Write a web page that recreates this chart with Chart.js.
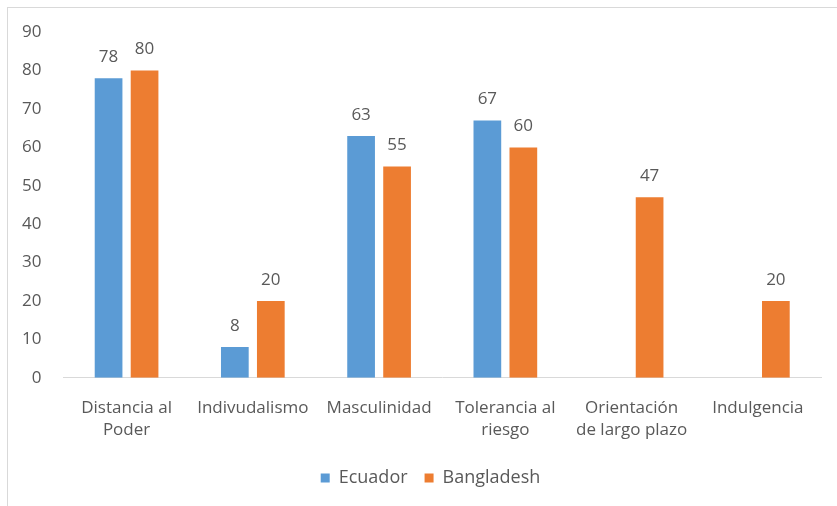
<!DOCTYPE html>
<html>
<head>
<meta charset="utf-8">
<script src="https://cdn.jsdelivr.net/npm/chart.js@4"></script>
<style>
  html, body { margin: 0; padding: 0; background: #fff; }
  #wrap { position: absolute; left: 7px; top: 7px; width: 840px; height: 510px; border: 1px solid #d9d9d9; box-sizing: border-box; }
  canvas { display: block; }
</style>
</head>
<body>
<div id="wrap"><canvas id="barChart"></canvas></div>
<script>
const categories = [
  ['Distancia al', 'Poder'],
  'Indivudalismo',
  'Masculinidad',
  ['Tolerancia al', 'riesgo'],
  ['Orientación', 'de largo plazo'],
  'Indulgencia'
];
const ecuador = [78, 8, 63, 67, null, null];
const bangladesh = [80, 20, 55, 60, 47, 20];
const yTicks = { min: 0, max: 90, step: 10 };

const textColor = '#595959';

// etiquetas de valor encima de cada barra
const valueLabelPlugin = {
  id: 'valueLabelPlugin',
  afterDatasetsDraw(chart) {
    const { ctx } = chart;
    ctx.save();
    ctx.font = '17px "Open Sans"';
    ctx.fillStyle = textColor;
    ctx.textAlign = 'center';
    ctx.textBaseline = 'middle';
    chart.data.datasets.forEach((ds, i) => {
      const meta = chart.getDatasetMeta(i);
      meta.data.forEach((bar, j) => {
        const v = ds.data[j];
        if (v === null || v === undefined) return;
        ctx.fillText(String(v), bar.x, bar.y - 21);
      });
    });
    ctx.restore();
  }
};

// la leyenda va un poco a la derecha, como en el original
const legendShift = {
  id: 'legendShift',
  afterLayout(chart) {
    if (!chart.legend) return;
    chart.legend.left += 16;
    chart.legend.right += 16;
  }
};

new Chart(document.getElementById('barChart'), {
  type: 'bar',
  data: {
    labels: categories,
    datasets: [
      { label: 'Ecuador', data: ecuador, backgroundColor: '#5b9bd5' },
      { label: 'Bangladesh', data: bangladesh, backgroundColor: '#ed7d31' }
    ]
  },
  options: {
    responsive: true,
    maintainAspectRatio: false,
    animation: false,
    layout: { padding: { left: 0, right: 25, top: 24, bottom: 19 } },
    datasets: { bar: { categoryPercentage: 0.57, barPercentage: 0.77 } },
    plugins: {
      legend: {
        position: 'bottom',
        labels: { boxWidth: 9, boxHeight: 9, color: textColor, font: { family: 'Open Sans', size: 18 }, padding: 17 }
      },
      tooltip: { enabled: false }
    },
    scales: {
      y: {
        min: yTicks.min, max: yTicks.max,
        ticks: { stepSize: yTicks.step, color: textColor, font: { family: 'Open Sans', size: 17 }, padding: 14 },
        grid: { display: false },
        border: { display: false }
      },
      x: {
        ticks: { color: textColor, font: { family: 'Open Sans', size: 17, lineHeight: 1.3 }, maxRotation: 0, autoSkip: false, padding: 11 },
        grid: { display: false },
        border: { display: true, color: '#d9d9d9', width: 1 }
      }
    }
  },
  plugins: [valueLabelPlugin, legendShift]
});
</script>
</body>
</html>
